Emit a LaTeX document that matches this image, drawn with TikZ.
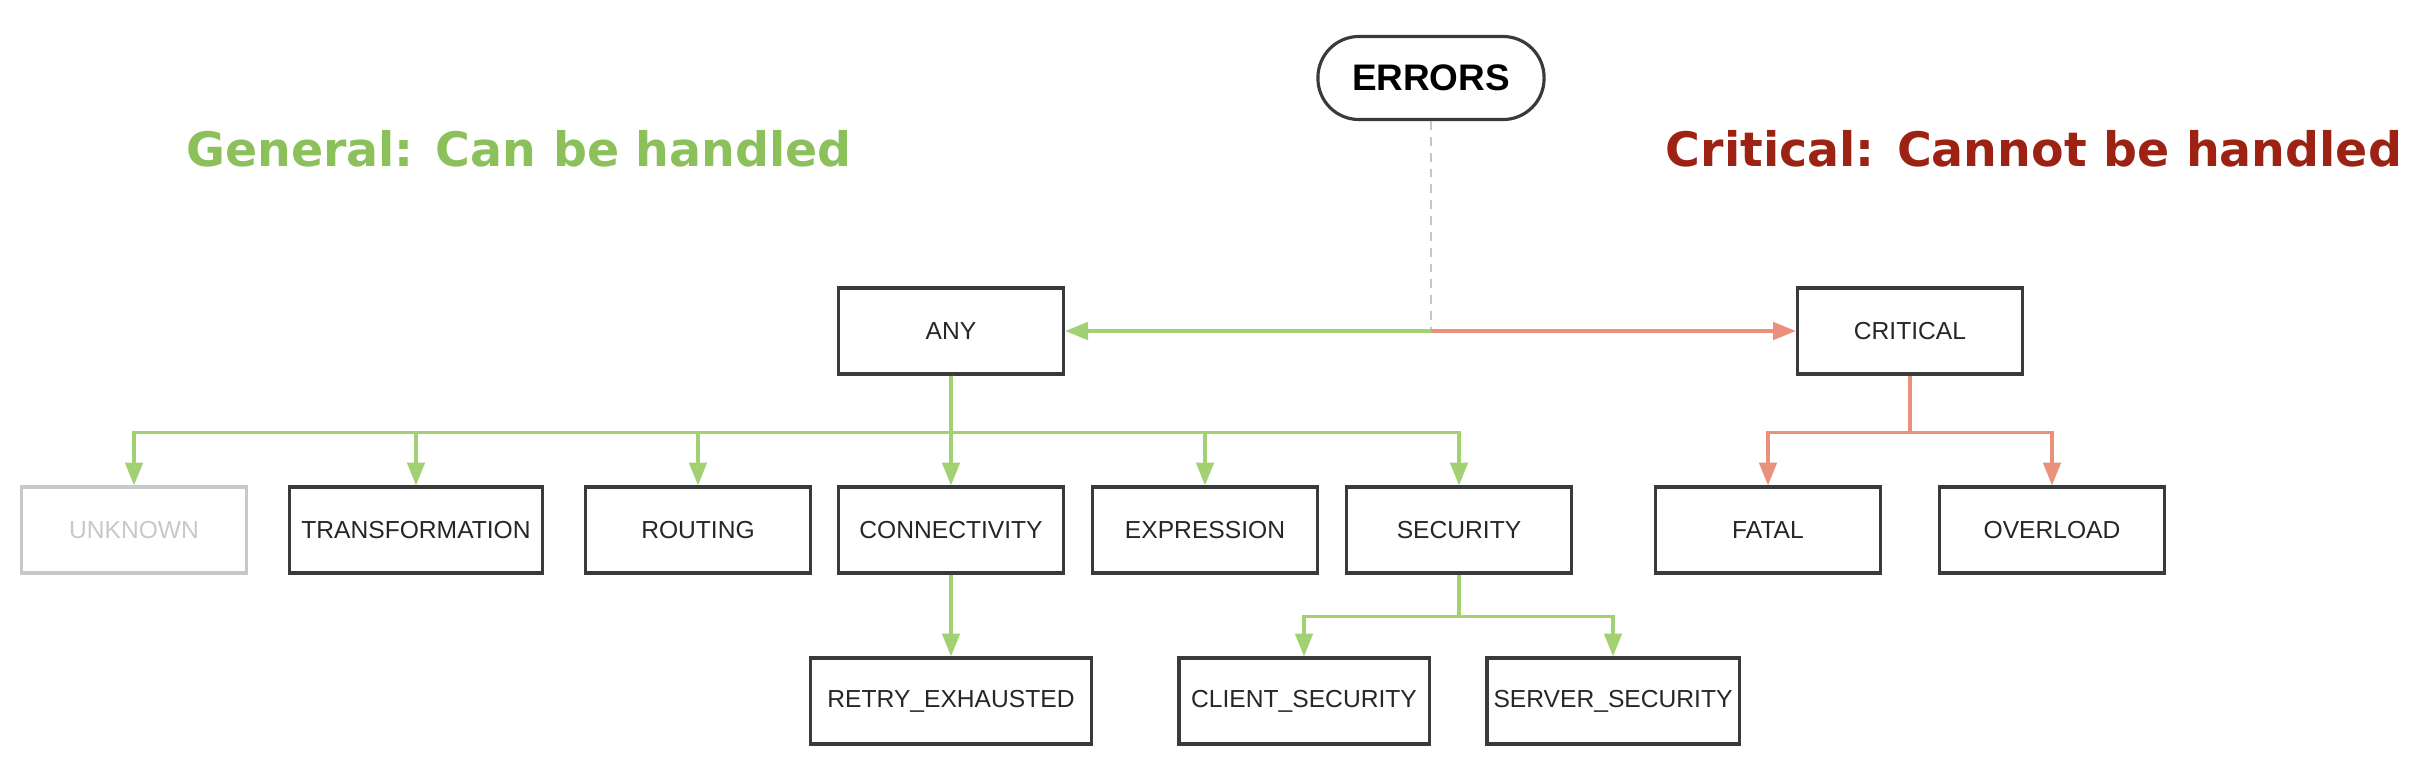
\documentclass[tikz,border=0pt]{standalone}
\usepackage{fontspec}
\setmainfont{Liberation Sans}
\newfontfamily\headfont{DejaVu Sans}
\usetikzlibrary{arrows.meta, positioning}
\definecolor{linegreen}{HTML}{A2D173}
\definecolor{headgreen}{HTML}{8CC05B}
\definecolor{linered}{HTML}{E9917B}
\definecolor{headred}{HTML}{9C2213}
\definecolor{boxgray}{HTML}{3A3A3A}
\definecolor{fadegray}{HTML}{C8C8C8}
\tikzset{
	block/.style={draw=boxgray, line width=0.9pt, minimum width=2.25cm, minimum height=0.86cm, inner sep=1pt, font=\fontsize{7}{8}\selectfont, text=black!85},
	faded/.style={block, draw=fadegray, text=fadegray},
	root/.style={draw=boxgray, line width=0.9pt, rounded corners=0.41cm, minimum width=2.26cm, minimum height=0.83cm, font=\fontsize{10.5}{12}\selectfont\bfseries},
	general/.style={draw=linegreen, line width=0.9pt, -{Triangle[width=5pt,length=6.5pt]}},
	critical/.style={draw=linered, line width=0.9pt, -{Triangle[width=5pt,length=6.5pt]}},
	heading/.style={font=\headfont\fontsize{13.5}{16}\selectfont\bfseries}
}

\begin{document}
\begin{tikzpicture}[x=0.01cm, y=-0.01cm]
	\useasboundingbox (0,0) rectangle (2409,757);

	% headings
	\node[heading, text=headgreen] (generalhead) at (519,149) {General: Can be handled};
	\node[heading, text=headred] (criticalhead) at (2034,149) {Critical: Cannot be handled};

	% root
	\node[root] (errors) at (1431,78) {ERRORS};
	\coordinate (split) at (1431,331);

	% first level
	\node[block] (any) at (951,331) {ANY};
	\node[block] (critical) at (1910,331) {CRITICAL};

	% second level
	\node[faded] (unknown) at (134,530) {UNKNOWN};
	\node[block, minimum width=2.53cm] (transformation) at (416,530) {TRANSFORMATION};
	\node[block] (routing) at (698,530) {ROUTING};
	\node[block] (connectivity) at (951,530) {CONNECTIVITY};
	\node[block] (expression) at (1205,530) {EXPRESSION};
	\node[block] (security) at (1459,530) {SECURITY};
	\node[block] (fatal) at (1768,530) {FATAL};
	\node[block] (overload) at (2052,530) {OVERLOAD};

	% third level
	\node[block, minimum width=2.81cm] (retry) at (951,701) {RETRY\_EXHAUSTED};
	\node[block, minimum width=2.5cm] (clientsec) at (1304,701) {CLIENT\_SECURITY};
	\node[block, minimum width=2.52cm] (serversec) at (1613,701) {SERVER\_SECURITY};

	% connectors
	\draw[gray!45, line width=0.7pt, dash pattern=on 2.5pt off 2pt] (errors.south) -- (split);
	\draw[general] (split) -- (any.east);
	\draw[critical] (split) -- (critical.west);

	\foreach \child in {unknown, transformation, routing, connectivity, expression, security}
		\draw[general] (any.south) -- ++(0,57) -| (\child.north);

	\draw[general] (connectivity.south) -- (retry.north);
	\foreach \child in {clientsec, serversec}
		\draw[general] (security.south) -- ++(0,42) -| (\child.north);

	\foreach \child in {fatal, overload}
		\draw[critical] (critical.south) -- ++(0,57) -| (\child.north);
\end{tikzpicture}
\end{document}
